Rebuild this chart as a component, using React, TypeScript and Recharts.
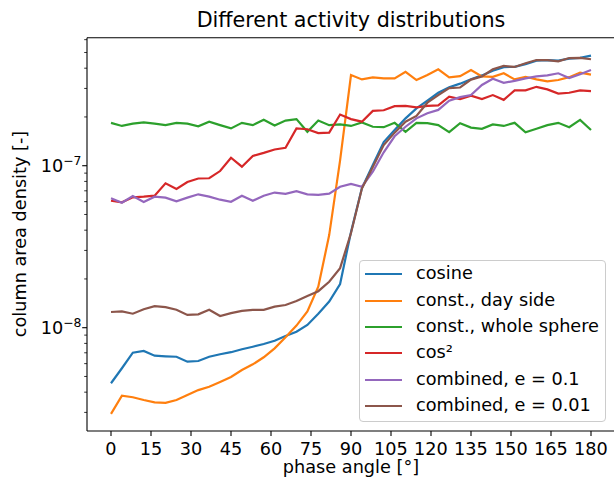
import { LineChart, Line, XAxis, YAxis, Legend, Label, ReferenceLine } from 'recharts'

// phase angles (linspace 0..180, 45 samples)
const angles = [
  0, 4.09, 8.18, 12.27, 16.36, 20.45, 24.55, 28.64, 32.73, 36.82, 40.91, 45,
  49.09, 53.18, 57.27, 61.36, 65.45, 69.55, 73.64, 77.73, 81.82, 85.91, 90,
  94.09, 98.18, 102.27, 106.36, 110.45, 114.55, 118.64, 122.73, 126.82, 130.91,
  135, 139.09, 143.18, 147.27, 151.36, 155.45, 159.55, 163.64, 167.73, 171.82,
  175.91, 180,
]

const cosine = [
  4.54e-9, 5.62e-9, 7.01e-9, 7.18e-9, 6.72e-9, 6.66e-9, 6.62e-9, 6.17e-9, 6.23e-9,
  6.62e-9, 6.86e-9, 7.06e-9, 7.36e-9, 7.63e-9, 7.93e-9, 8.31e-9, 8.89e-9, 9.45e-9,
  1.04e-8, 1.22e-8, 1.45e-8, 1.86e-8, 3.9e-8, 7.28e-8, 1.01e-7, 1.4e-7, 1.66e-7,
  1.96e-7, 2.26e-7, 2.52e-7, 2.82e-7, 3.05e-7, 3.21e-7, 3.42e-7, 3.61e-7, 3.86e-7,
  4.06e-7, 4.08e-7, 4.24e-7, 4.45e-7, 4.49e-7, 4.45e-7, 4.58e-7, 4.63e-7, 4.78e-7,
]

const daySide = [
  2.94e-9, 3.8e-9, 3.72e-9, 3.58e-9, 3.46e-9, 3.44e-9, 3.58e-9, 3.84e-9, 4.12e-9,
  4.32e-9, 4.62e-9, 4.96e-9, 5.48e-9, 5.94e-9, 6.57e-9, 7.46e-9, 8.72e-9, 1.03e-8,
  1.26e-8, 1.79e-8, 3.73e-8, 1.08e-7, 3.63e-7, 3.41e-7, 3.51e-7, 3.46e-7, 3.46e-7,
  3.8e-7, 3.38e-7, 3.63e-7, 3.94e-7, 3.51e-7, 3.57e-7, 3.9e-7, 3.56e-7, 3.54e-7,
  3.72e-7, 3.41e-7, 3.54e-7, 3.41e-7, 3.32e-7, 3.38e-7, 3.52e-7, 3.75e-7, 3.65e-7,
]

const wholeSphere = [
  1.84e-7, 1.76e-7, 1.82e-7, 1.85e-7, 1.82e-7, 1.78e-7, 1.84e-7, 1.82e-7, 1.75e-7,
  1.87e-7, 1.78e-7, 1.7e-7, 1.84e-7, 1.78e-7, 1.92e-7, 1.77e-7, 1.9e-7, 1.94e-7,
  1.62e-7, 1.9e-7, 1.78e-7, 1.8e-7, 1.76e-7, 1.85e-7, 1.74e-7, 1.73e-7, 1.84e-7,
  1.62e-7, 1.84e-7, 1.83e-7, 1.78e-7, 1.61e-7, 1.83e-7, 1.72e-7, 1.69e-7, 1.8e-7,
  1.76e-7, 1.84e-7, 1.61e-7, 1.69e-7, 1.78e-7, 1.84e-7, 1.73e-7, 1.92e-7, 1.66e-7,
]

const cosSquared = [
  6.08e-8, 5.94e-8, 6.38e-8, 6.44e-8, 6.53e-8, 7.79e-8, 7.18e-8, 7.93e-8, 8.34e-8,
  8.37e-8, 9.27e-8, 1.12e-7, 9.86e-8, 1.15e-7, 1.2e-7, 1.26e-7, 1.29e-7, 1.7e-7,
  1.68e-7, 1.59e-7, 1.6e-7, 2.07e-7, 1.94e-7, 1.87e-7, 2.18e-7, 2.2e-7, 2.33e-7,
  2.34e-7, 2.29e-7, 2.34e-7, 2.36e-7, 2.67e-7, 2.58e-7, 2.71e-7, 2.58e-7, 2.73e-7,
  2.55e-7, 2.92e-7, 2.92e-7, 3.07e-7, 2.96e-7, 2.79e-7, 2.82e-7, 2.92e-7, 2.89e-7,
]

const combined01 = [
  6.29e-8, 5.91e-8, 6.5e-8, 5.97e-8, 6.44e-8, 6.35e-8, 6.03e-8, 6.35e-8, 6.66e-8,
  6.44e-8, 6.17e-8, 5.99e-8, 6.53e-8, 6.08e-8, 6.53e-8, 6.83e-8, 6.71e-8, 6.96e-8,
  6.66e-8, 6.6e-8, 6.72e-8, 7.41e-8, 7.73e-8, 7.42e-8, 9.18e-8, 1.21e-7, 1.52e-7,
  1.74e-7, 1.96e-7, 2.11e-7, 2.21e-7, 2.52e-7, 2.65e-7, 2.73e-7, 3.15e-7, 3.44e-7,
  3.25e-7, 3.34e-7, 3.46e-7, 3.56e-7, 3.61e-7, 3.72e-7, 3.48e-7, 3.67e-7, 3.9e-7,
]

const combined001 = [
  1.25e-8, 1.26e-8, 1.22e-8, 1.3e-8, 1.36e-8, 1.34e-8, 1.29e-8, 1.2e-8, 1.21e-8,
  1.29e-8, 1.18e-8, 1.23e-8, 1.27e-8, 1.29e-8, 1.29e-8, 1.35e-8, 1.38e-8, 1.46e-8,
  1.57e-8, 1.68e-8, 1.92e-8, 2.33e-8, 3.84e-8, 7.23e-8, 9.82e-8, 1.34e-7, 1.6e-7,
  1.87e-7, 2.03e-7, 2.45e-7, 2.73e-7, 3.01e-7, 3.04e-7, 3.4e-7, 3.56e-7, 3.94e-7,
  4.13e-7, 4.07e-7, 4.29e-7, 4.49e-7, 4.49e-7, 4.41e-7, 4.62e-7, 4.63e-7, 4.54e-7,
]

const seriesNames = [
  'cosine',
  'const., day side',
  'const., whole sphere',
  'cos²',
  'combined, e = 0.1',
  'combined, e = 0.01',
]
const seriesColors = ['#1f77b4', '#ff7f0e', '#2ca02c', '#d62728', '#9467bd', '#8c564b']
const seriesValues = [cosine, daySide, wholeSphere, cosSquared, combined01, combined001]

const xTicks = [0, 15, 30, 45, 60, 75, 90, 105, 120, 135, 150, 165, 180]
const yTicks = [
  3e-9, 4e-9, 5e-9, 6e-9, 7e-9, 8e-9, 9e-9, 1e-8, 2e-8, 3e-8, 4e-8, 5e-8, 6e-8,
  7e-8, 8e-8, 9e-8, 1e-7, 2e-7, 3e-7, 4e-7, 5e-7, 6e-7,
]

const X_DOMAIN = [-9, 189]
const Y_DOMAIN = [2.303e-9, 6.17e-7]

const data = angles.map((angle, i) => {
  const row: Record<string, number> = { angle }
  seriesValues.forEach((s, k) => {
    row['s' + k] = s[i]
  })
  return row
})

const FONT = 'DejaVu Sans, sans-serif'
const FS = 17.7

const XTick = (props: any) => {
  const { x, y, payload } = props
  return (
    <g>
      <line x1={x} x2={x} y1={y} y2={y + 5} stroke='#000' strokeWidth={1.1} />
      <text x={x} y={y + 23.5} textAnchor='middle' fontSize={FS} fill='#000' fontFamily={FONT}>
        {payload.value}
      </text>
    </g>
  )
}

const YTick = (props: any) => {
  const { x, y, payload } = props
  const lg = Math.log10(payload.value)
  const exp = Math.round(lg)
  const major = Math.abs(lg - exp) < 1e-6
  return (
    <g>
      <line x1={x - (major ? 4.8 : 2.8)} x2={x} y1={y} y2={y} stroke='#000' strokeWidth={major ? 1.1 : 0.8} />
      {major && (
        <text x={x - 5.5} y={y + 6.5} textAnchor='end' fontSize={FS} fill='#000' fontFamily={FONT}>
          10
          <tspan dy={-7.5} fontSize={12.4}>
            {'\u2212' + Math.abs(exp)}
          </tspan>
        </text>
      )}
    </g>
  )
}

// legend drawn in the order of the series (recharts sorts its payload)
const LegendBox = () => (
  <div
    style={{
      boxSizing: 'border-box',
      width: 247,
      height: 162,
      border: '1px solid #cccccc',
      borderRadius: 4,
      background: 'rgba(255,255,255,0.8)',
      paddingLeft: 5,
      fontFamily: FONT,
      fontSize: FS,
      color: '#000',
    }}
  >
    {seriesNames.map((name, k) => (
      <div key={name} style={{ display: 'flex', alignItems: 'center', height: 26.4 }}>
        <svg width={37} height={4} style={{ marginRight: 14, flexShrink: 0 }}>
          <line x1={0} x2={37} y1={2} y2={2} stroke={seriesColors[k]} strokeWidth={2.2} />
        </svg>
        <span style={{ whiteSpace: 'nowrap', position: 'relative', top: -1 }}>{name}</span>
      </div>
    ))}
  </div>
)

export default function App() {
  return (
    <div
      style={{
        position: 'fixed',
        left: 0,
        top: 0,
        width: 614,
        height: 481,
        overflow: 'hidden',
        background: '#fff',
      }}
    >
      <svg
        width={614}
        height={36}
        style={{ position: 'absolute', left: 0, top: 0 }}
      >
        <text x={351} y={27} textAnchor='middle' fontSize={20.7} fill='#000' fontFamily={FONT}>
          Different activity distributions
        </text>
      </svg>
      <LineChart
        width={616}
        height={481}
        data={data}
        margin={{ top: 37.7, right: 1, bottom: 0, left: 0 }}
        style={{ fontFamily: FONT }}
      >
        <XAxis
          dataKey='angle'
          type='number'
          domain={X_DOMAIN}
          ticks={xTicks}
          interval={0}
          height={50}
          tickSize={0}
          tickMargin={0}
          tickLine={false}
          axisLine={{ stroke: '#000', strokeWidth: 1.1 }}
          tick={<XTick />}
        >
          <Label
            content={() => (
              <text x={351} y={473} textAnchor='middle' fontSize={FS} fill='#000' fontFamily={FONT}>
                phase angle [°]
              </text>
            )}
          />
        </XAxis>
        <YAxis
          type='number'
          scale='log'
          domain={Y_DOMAIN}
          allowDataOverflow
          ticks={yTicks}
          interval={0}
          width={87}
          tickSize={0}
          tickMargin={0}
          tickLine={false}
          axisLine={{ stroke: '#000', strokeWidth: 1.1 }}
          tick={<YTick />}
        >
          <Label
            content={() => (
              <text
                x={26}
                y={234}
                transform='rotate(-90 26 234)'
                textAnchor='middle'
                fontSize={FS}
                fill='#000'
                fontFamily={FONT}
              >
                column area density [-]
              </text>
            )}
          />
        </YAxis>
        <ReferenceLine y={Y_DOMAIN[1]} stroke='#000' strokeWidth={1.1} ifOverflow='visible' />
        <ReferenceLine x={X_DOMAIN[1]} stroke='#000' strokeWidth={1.1} ifOverflow='visible' />
        {seriesNames.map((name, k) => (
          <Line
            key={name}
            type='linear'
            dataKey={'s' + k}
            name={name}
            stroke={seriesColors[k]}
            strokeWidth={2.2}
            dot={false}
            activeDot={false}
            isAnimationActive={false}
          />
        ))}
        <Legend
          layout='vertical'
          align='center'
          verticalAlign='middle'
          content={<LegendBox />}
          wrapperStyle={{ left: 359, top: 260, width: 247, height: 162 }}
        />
      </LineChart>
    </div>
  )
}
